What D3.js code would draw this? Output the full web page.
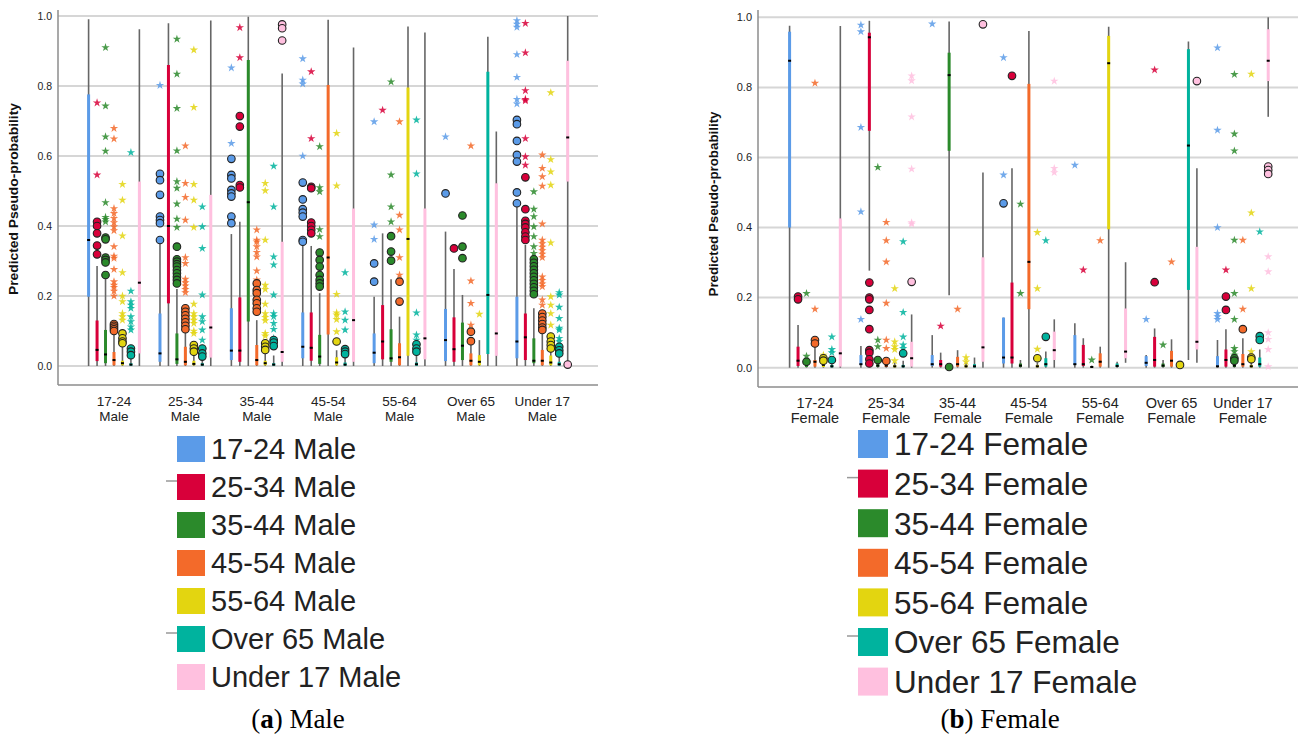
<!DOCTYPE html>
<html>
<head>
<meta charset="utf-8">
<script src="https://cdn.jsdelivr.net/npm/d3@7"></script>
<style>
  body { margin: 0; background: #fff; }
  svg { display: block; }
</style>
</head>
<body>
<div class="chart"></div>
<script>
// age bands (x categories) and series names
var ageBands = ["17-24", "25-34", "35-44", "45-54", "55-64", "Over 65", "Under 17"];
var maleSeries = ageBands.map(d => d + " Male");
var femaleSeries = ageBands.map(d => d + " Female");
var seriesColors = ["#5b9be8", "#d8003a", "#2b8a2b", "#f36a2a", "#e3d510", "#00b39e", "#ffc0df"];
var yTicks = [0, 0.2, 0.4, 0.6, 0.8, 1.0];

// box stats per [ageBand][series]: [low whisker, q1, median, q3, high whisker]
var maleBoxes = [
  [[0,.198,.36,.776,.991],[0,.014,.046,.13,.286],[0,.008,.033,.103,.25],[0,.002,.017,.04,.09],[0,.002,.008,.015,.055],[0,.001,.004,.008,.025],[0,.036,.238,.527,.962]],
  [[0,.012,.036,.15,.365],[0,.179,.40,.86,.979],[0,.006,.019,.093,.22],[0,.002,.012,.055,.095],[0,.002,.006,.015,.035],[0,.001,.004,.008,.022],[0,.024,.11,.489,.987]],
  [[0,.017,.044,.165,.377],[0,.012,.044,.196,.412],[0,.127,.468,.874,.998],[0,.002,.017,.06,.131],[0,.002,.008,.015,.035],[0,.001,.004,.008,.03],[0,.012,.04,.355,.836]],
  [[0,.022,.055,.153,.35],[0,.015,.052,.153,.343],[0,.006,.027,.089,.208],[0,.09,.31,.803,.989],[0,.002,.01,.025,.045],[0,.001,.004,.01,.025],[0,.012,.131,.45,.91]],
  [[0,.008,.038,.093,.198],[0,.019,.07,.174,.379],[0,.012,.022,.105,.248],[0,.002,.025,.065,.141],[0,.029,.363,.796,.97],[0,.001,.005,.01,.03],[0,.019,.079,.45,.953]],
  [[0,.014,.074,.163,.384],[0,.012,.048,.139,.277],[0,.017,.058,.124,.203],[0,.002,.015,.036,.06],[0,.002,.012,.031,.074],[0,.034,.203,.841,.941],[0,.029,.093,.522,.67]],
  [[0,.022,.07,.198,.465],[0,.017,.082,.15,.346],[0,.008,.015,.079,.165],[0,.002,.015,.046,.095],[0,.002,.01,.03,.045],[0,.001,.005,.012,.03],[.01,.527,.653,.872,1.0]]
];
// outliers (circles)
var maleCircles = [
  [[],[.412,.40,.379,.344,.319],[.367,.362,.31,.303,.296,.26],[.12,.115,.11,.105,.1],[.093,.079,.07,.065],[.05,.041,.031],[]],
  [[.549,.531,.489,.427,.417,.408,.36],[],[.341,.305,.298,.291,.284,.274,.265,.255,.246,.236],[.165,.155,.145,.135,.125,.115,.105],[.06,.05,.041],[.05,.036,.027],[]],
  [[.592,.546,.536,.503,.493,.484,.427,.408],[.714,.684,.517,.51],[],[.236,.217,.208,.189,.179,.165,.155],[.065,.055,.046],[.074,.067,.057],[.976,.965,.93]],
  [[.524,.476,.448,.438,.427,.36,.355],[.512,.508,.41,.40,.389,.379],[.324,.303,.284,.26,.246,.236,.227],[],[.07],[.048,.041,.034],[]],
  [[.293,.241],[],[.371,.327,.301],[.241,.184],[],[.062,.05,.041],[]],
  [[.493],[.336],[.43,.341,.308],[.098,.071],[],[],[]],
  [[.703,.691,.643,.603,.584,.496,.465],[.539,.448,.415,.406,.396,.382,.37,.36],[.305,.295,.285,.275,.265,.255,.245,.235,.225,.215,.205],[.15,.14,.13,.12,.11,.103],[.084,.07,.06,.05],[.055,.045,.036],[.004]]
];
// extremes (stars)
var maleStars = [
  [[],[.752,.546],[.91,.743,.655,.614,.467,.425,.419,.412],[.679,.649,.45,.436,.422,.41,.398,.387,.341,.314,.308,.276,.241,.231,.225,.214,.2],[.519,.474,.372,.267,.2,.184,.15,.141,.131],[.61,.214,.184,.174,.165,.141,.127,.112,.103],[]],
  [[.802],[],[.934,.834,.736,.615,.527,.508,.463,.42,.396],[.629,.522,.482,.417,.31,.293,.248,.238,.229,.219,.21],[.903,.739,.519,.474,.396,.177,.15,.141,.131,.122,.1,.093],[.455,.398,.336,.203,.141,.127,.103,.074],[]],
  [[.852,.636],[.967,.881],[],[.389,.36,.355,.341,.325,.312,.272,.246],[.522,.501,.36,.231,.219,.177,.15,.139,.13,.093,.086],[.571,.455,.312,.289,.203,.15,.141,.122,.105,.079],[]],
  [[.878,.817,.806,.6],[.841,.65],[.627,.51,.498,.39,.37],[],[.665,.515,.205,.152,.146,.133,.098],[.267,.155,.131,.103],[]],
  [[.698,.403,.362],[.731],[.812,.546,.455,.412],[.698,.431,.389,.31,.26],[],[.703,.549,.152,.089,.074],[]],
  [[.655],[],[],[.629,.243,.179,.117],[.148],[],[]],
  [[.987,.977,.968,.89,.825,.762,.749],[.979,.895,.787,.762,.758,.65,.598,.574],[.498,.448,.427,.398,.37,.341,.322],[.603,.565,.541,.514,.406,.36,.35,.34,.33,.32,.31,.255,.245,.235,.227,.189,.174],[.781,.59,.555,.517,.352,.198,.174,.15,.117,.084],[.21,.203,.168,.136,.108,.103,.079,.07],[]]
];

var femaleBoxes = [
  [[0,.4,.876,.959,.976],[0,.005,.02,.06,.122],[0,.002,.008,.015,.025],[0,.003,.017,.022,.065],[0,.002,.008,.015,.03],[0,.001,.004,.008,.02],[0,.003,.041,.426,.975]],
  [[0,.008,.01,.036,.062],[.277,.676,.943,.956,.99],[0,.002,.006,.012,.02],[0,.002,.006,.012,.02],[0,.001,.004,.008,.015],[0,.001,.004,.008,.02],[0,.003,.027,.074,.152]],
  [[0,.005,.01,.036,.093],[0,.003,.01,.022,.043],[.207,.619,.835,.899,.988],[0,.003,.01,.031,.05],[0,.001,.004,.008,.015],[0,.001,.004,.01,.029],[0,.017,.058,.315,.557]],
  [[0,.012,.029,.143,.143],[0,.012,.029,.243,.569],[0,.002,.006,.012,.022],[0,.167,.302,.81,.961],[0,.001,.004,.008,.015],[0,.003,.01,.027,.046],[0,.022,.05,.103,.138]],
  [[0,.008,.01,.093,.127],[0,.005,.01,.065,.084],[0,.001,.002,.004,.006],[0,.003,.017,.041,.06],[0,.395,.869,.947,.973],[0,.002,.005,.012,.017],[.014,.027,.046,.169,.301]],
  [[0,.005,.014,.033,.036],[0,.003,.022,.088,.112],[0,.002,.006,.012,.022],[0,.003,.02,.048,.081],[0,.001,.002,.004,.006],[.022,.222,.634,.909,.931],[.014,.052,.074,.345,.569]],
  [[0,.003,.004,.033,.079],[0,.003,.022,.052,.11],[0,.002,.006,.012,.02],[0,.003,.01,.039,.084],[0,.001,.004,.008,.015],[0,.003,.01,.029,.052],[.716,.818,.876,.966,1.0]]
];
var femaleCircles = [
  [[],[.203,.195],[.017],[.079,.069],[.027,.02],[.022],[]],
  [[],[.243,.2,.195,.165,.11,.05,.043,.024,.012],[.022],[.019],[],[.041],[.245]],
  [[],[],[.002],[],[],[],[.98]],
  [[.469],[.833],[],[],[.027],[.088],[]],
  [[],[],[],[],[],[],[]],
  [[],[.244],[],[],[.008],[],[.818]],
  [[],[.203,.165],[.027,.02],[.11],[.029,.024],[.09,.079],[.574,.564,.553]]
];
var femaleStars = [
  [[],[],[.212,.033],[.812,.167],[.036],[.088,.052,.043],[]],
  [[.978,.959,.686,.445,.138],[],[.572,.079,.06],[.415,.363,.302,.184,.079,.055],[.226,.074,.06,.052,.02],[.36,.158,.088,.065,.055],[.833,.819,.716,.567,.414,.41]],
  [[.981],[.119],[],[.167],[.029,.017],[],[]],
  [[.885,.55],[],[.467,.212],[],[.386,.226,.053],[.363],[.818,.569,.557]],
  [[.578],[.279],[.022],[.363],[],[],[]],
  [[.138],[.85],[.065],[.302],[],[],[]],
  [[.913,.678,.4,.155,.146,.138],[.279],[.837,.667,.619,.364,.212,.138,.055,.046,.036],[.364,.167],[.838,.442,.226,.046],[.388],[.317,.274,.1,.081,.052,.003]]
];

var svg = d3.select(".chart").append("svg")
  .attr("width", 1298)
  .attr("height", 735);

function drawPanel(p) {
  var g = svg.append("g");

  var y = d3.scaleLinear().domain([0, 1]).range([p.y0, p.y1]);
  var x = d3.scaleBand().domain(ageBands).range(p.bandRange);
  var inner = d3.scaleBand().domain(p.series).range([0, x.bandwidth() * 0.83]);
  var off = (x.bandwidth() - x.bandwidth() * 0.83) / 2;
  var cx = (gi, si) => x(ageBands[gi]) + off + inner(p.series[si]) + inner.bandwidth() / 2;

  // gridlines
  g.selectAll(".grid").data(yTicks).enter().append("line")
    .attr("x1", p.axisX).attr("x2", p.right)
    .attr("y1", d => y(d)).attr("y2", d => y(d))
    .attr("stroke", "#d6d6d6").attr("stroke-width", 2);

  // axis lines
  g.append("line").attr("x1", p.axisX).attr("x2", p.axisX).attr("y1", p.top).attr("y2", p.bottom)
    .attr("stroke", "#8c8c8c").attr("stroke-width", 1.5);
  g.append("line").attr("x1", p.axisX).attr("x2", p.right).attr("y1", p.bottom).attr("y2", p.bottom)
    .attr("stroke", "#8c8c8c").attr("stroke-width", 1.5);

  // y tick labels
  g.selectAll(".ytl").data(yTicks).enter().append("text")
    .attr("x", p.axisX - 6).attr("y", d => y(d)).attr("dy", "0.35em")
    .attr("text-anchor", "end")
    .style("font-family", "Liberation Sans, Arial, sans-serif")
    .style("font-size", p.tickFont + "px").attr("fill", "#222")
    .text(d => d.toFixed(1));

  // y title
  g.append("text")
    .attr("transform", `translate(${p.titleX}, ${p.titleY}) rotate(-90)`)
    .attr("text-anchor", "middle")
    .attr("textLength", p.titleLen).attr("lengthAdjust", "spacingAndGlyphs")
    .style("font-family", "Liberation Sans, Arial, sans-serif")
    .style("font-size", "13px").style("font-weight", "bold").attr("fill", "#111")
    .text("Predicted Pseudo-probability");

  // x labels, two lines
  var xl = g.selectAll(".xl").data(ageBands).enter().append("text")
    .attr("text-anchor", "middle")
    .style("font-family", "Liberation Sans, Arial, sans-serif")
    .style("font-size", p.xFont + "px").attr("fill", "#222");
  xl.append("tspan").attr("x", d => x(d) + x.bandwidth() / 2).attr("y", p.xLab1).attr("dy", "0.35em").text(d => d);
  xl.append("tspan").attr("x", d => x(d) + x.bandwidth() / 2).attr("y", p.xLab2).attr("dy", "0.35em").text(p.sex);

  // boxes
  p.boxes.forEach(function(row, gi) {
    row.forEach(function(b, si) {
      var px = cx(gi, si);
      g.append("line").attr("x1", px).attr("x2", px).attr("y1", y(b[0])).attr("y2", y(b[4]))
        .attr("stroke", "#666").attr("stroke-width", 1.6);
      g.append("line").attr("x1", px).attr("x2", px).attr("y1", y(b[1])).attr("y2", y(b[3]))
        .attr("stroke", seriesColors[si]).attr("stroke-width", 3);
      g.append("rect").attr("x", px - 1.5).attr("y", y(b[2]) - 1).attr("width", 3).attr("height", 2)
        .attr("fill", "#000");
    });
  });

  // stars (extremes)
  var star = d3.symbol().type(d3.symbolStar).size(22);
  p.stars.forEach(function(row, gi) {
    row.forEach(function(vals, si) {
      g.selectAll(null).data(vals).enter().append("path")
        .attr("d", star)
        .attr("transform", d => `translate(${cx(gi, si)}, ${y(d)})`)
        .attr("fill", seriesColors[si]).attr("opacity", 0.85);
    });
  });

  // circles (outliers)
  p.circles.forEach(function(row, gi) {
    row.forEach(function(vals, si) {
      g.selectAll(null).data(vals).enter().append("circle")
        .attr("cx", cx(gi, si)).attr("cy", d => y(d)).attr("r", 3.8)
        .attr("fill", seriesColors[si]).attr("stroke", "#222").attr("stroke-width", 1.1);
    });
  });

  // legend
  var lg = g.selectAll(".lg").data(p.series).enter().append("g")
    .attr("transform", (d, i) => `translate(${p.legX}, ${p.legY + i * p.legStep})`);
  lg.append("rect").attr("x", 0).attr("y", -p.swH / 2).attr("width", p.swW).attr("height", p.swH)
    .attr("fill", (d, i) => seriesColors[i]);
  lg.append("text").attr("x", p.swW + 6).attr("y", 0).attr("dy", "0.36em")
    .style("font-family", "Liberation Sans, Arial, sans-serif")
    .style("font-size", p.legFont + "px").attr("fill", "#222")
    .text(d => d);
  // little grey marks left of two swatches
  [1, 5].forEach(function(i) {
    g.append("line").attr("x1", p.legX - 11).attr("x2", p.legX)
      .attr("y1", p.legY + i * p.legStep - 6).attr("y2", p.legY + i * p.legStep - 6)
      .attr("stroke", "#999").attr("stroke-width", 1.5);
  });

  // caption
  var cap = g.append("text").attr("x", p.capX).attr("y", 728).attr("text-anchor", "middle")
    .style("font-family", "Liberation Serif, Times New Roman, serif").style("font-size", "27px").attr("fill", "#000");
  cap.append("tspan").text("(");
  cap.append("tspan").style("font-weight", "bold").text(p.capLetter);
  cap.append("tspan").text(") " + p.sex);
}

drawPanel({
  series: maleSeries, sex: "Male", boxes: maleBoxes, circles: maleCircles, stars: maleStars,
  axisX: 58, right: 598, top: 10, bottom: 385, y0: 366, y1: 16,
  bandRange: [78.3, 578], tickFont: 10.5, xFont: 13.5, xLab1: 401, xLab2: 416,
  titleX: 18, titleY: 199, titleLen: 192,
  legX: 177, legY: 449, legStep: 38, swW: 28, swH: 26, legFont: 29,
  capX: 298, capLetter: "a"
});

drawPanel({
  series: femaleSeries, sex: "Female", boxes: femaleBoxes, circles: femaleCircles, stars: femaleStars,
  axisX: 758, right: 1298, top: 10, bottom: 387, y0: 367.7, y1: 17.3,
  bandRange: [779.3, 1278.5], tickFont: 11, xFont: 14.5, xLab1: 403, xLab2: 418,
  titleX: 718, titleY: 204, titleLen: 185,
  legX: 858, legY: 444, legStep: 39.6, swW: 30, swH: 28, legFont: 31.5,
  capX: 1000, capLetter: "b"
});
</script>
</body>
</html>
